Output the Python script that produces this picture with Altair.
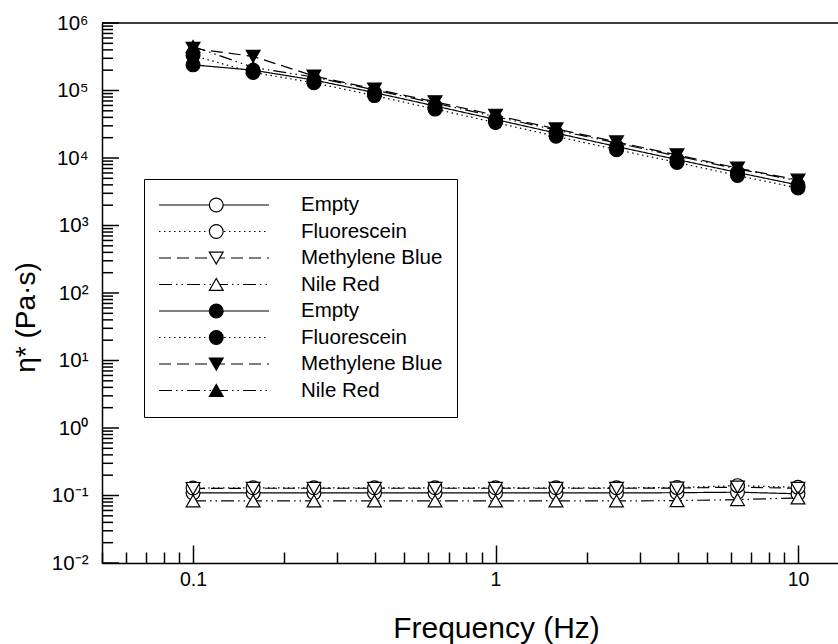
import math
import altair as alt
import pandas as pd

# ---- data ----
freqs = [0.1, 0.158, 0.251, 0.398, 0.631, 1.0, 1.585, 2.512, 3.981, 6.31, 10.0]
names = ["Empty", "Fluorescein", "Methylene Blue", "Nile Red"]

open_empty = [0.109, 0.109, 0.109, 0.109, 0.109, 0.109, 0.109, 0.109, 0.110, 0.112, 0.106]
open_fluor = [0.129, 0.130, 0.130, 0.130, 0.130, 0.130, 0.130, 0.130, 0.131, 0.140, 0.132]
open_mb = [0.127, 0.128, 0.128, 0.128, 0.128, 0.128, 0.128, 0.128, 0.129, 0.133, 0.128]
open_nr = [0.083, 0.083, 0.083, 0.083, 0.083, 0.083, 0.083, 0.083, 0.084, 0.087, 0.092]

filled_empty = [2.4e5, 2.0e5, 1.43e5, 9.3e4, 5.9e4, 3.72e4, 2.34e4, 1.48e4, 9.5e3, 6.1e3, 3.98e3]
filled_fluor = [3.3e5, 1.85e5, 1.30e5, 8.4e4, 5.3e4, 3.35e4, 2.1e4, 1.33e4, 8.6e3, 5.5e3, 3.6e3]
filled_mb = [4.2e5, 3.2e5, 1.64e5, 1.05e5, 6.8e4, 4.3e4, 2.7e4, 1.73e4, 1.11e4, 7.1e3, 4.7e3]
filled_nr = [4.5e5, 2.2e5, 1.58e5, 1.02e5, 6.5e4, 4.1e4, 2.6e4, 1.67e4, 1.07e4, 6.9e3, 4.6e3]

x_major = [0.1, 1, 10]
x_minor = [0.05, 0.06, 0.07, 0.08, 0.09, 0.2, 0.3, 0.4, 0.5, 0.6, 0.7, 0.8, 0.9,
           2, 3, 4, 5, 6, 7, 8, 9]
y_major = [1e-2, 1e-1, 1e0, 1e1, 1e2, 1e3, 1e4, 1e5, 1e6]
y_minor = [m * 10.0 ** k for k in range(-2, 6) for m in range(2, 10)]

FONT = "Liberation Sans"

rows = []
groups = (("open", [open_empty, open_fluor, open_mb, open_nr]),
          ("filled", [filled_empty, filled_fluor, filled_mb, filled_nr]))
for g, series in groups:
    for name, vals in zip(names, series):
        for f, v in zip(freqs, vals):
            rows.append({"freq": f, "eta": v,
                         "line": f"{g}: {name}",
                         "marker": f"{g} marker: {name}"})
df = pd.DataFrame(rows)

line_keys = [f"{g}: {n}" for g in ("open", "filled") for n in names]
marker_keys = [f"{g} marker: {n}" for g in ("open", "filled") for n in names]
dashes = [[1, 0], [1.5, 3.5], [12, 6], [13, 4, 1.5, 4, 1.5, 4]] * 2
shapes = ["circle", "circle", "triangle-down", "triangle-up"] * 2
fills = ["white"] * 4 + ["black"] * 4
strokes = ["black"] * 8

X_MIN, X_MAX = 0.05, 13.56
xscale = alt.Scale(type="log", domain=[X_MIN, X_MAX], nice=False)
yscale = alt.Scale(type="log", domain=[1e-2, 1e6], nice=False)

sup = str.maketrans("-0123456789", "⁻⁰¹²³⁴⁵⁶⁷⁸⁹")
parts = []
for v in y_major:
    e = round(math.log10(v))
    parts.append(f"round(log(datum.value)/LN10) == {e} ? '10{str(e).translate(sup)}'")
y_label_expr = " : ".join(parts) + " : ''"

legend_lines = alt.Legend(
    orient="none", legendX=42, legendY=156, title=None,
    symbolType="stroke", symbolSize=12100, symbolStrokeWidth=1.2,
    symbolStrokeColor="black", labelFont=FONT, labelFontSize=20.5,
    labelColor="black", labelOffset=31, labelLimit=400, padding=14,
    clipHeight=24, rowPadding=2.5, strokeColor="black", fillColor="white",
    zindex=1,
    labelExpr="replace(replace(datum.label, 'open: ', ''), 'filled: ', '')",
)
legend_marks = alt.Legend(
    orient="none", legendX=90, legendY=156, title=None,
    symbolSize=190, symbolStrokeWidth=1.2, symbolStrokeColor="black",
    symbolOpacity=1, labelExpr="''", labelFontSize=20.5, labelLimit=400,
    padding=14, clipHeight=24, rowPadding=2.5, zindex=2,
)

base = alt.Chart(df)

lines = base.mark_line(color="black", strokeWidth=1.2).encode(
    x=alt.X("freq:Q", scale=xscale,
            axis=alt.Axis(orient="bottom", values=x_major, format="~g",
                          title="Frequency (Hz)",
                          tickSize={"expr": "-18"}, labelPadding=25,
                          titleX=394, titleY=74, titleBaseline="alphabetic",
                          titleFontSize=30)),
    y=alt.Y("eta:Q", scale=yscale,
            axis=alt.Axis(orient="left", values=y_major, labelExpr=y_label_expr,
                          title="η* (Pa·s)", ticks=False, labelFontSize=20.5,
                          labelPadding=14, titleX=-76, titleY=294,
                          titleBaseline="middle")),
    strokeDash=alt.StrokeDash("line:N",
                              scale=alt.Scale(domain=line_keys, range=dashes),
                              legend=legend_lines),
)

points = base.mark_point(filled=True, size=190, strokeWidth=1.2, opacity=1).encode(
    x=alt.X("freq:Q", scale=xscale,
            axis=alt.Axis(orient="bottom", values=x_minor, labels=False,
                          domain=False, title=None, tickSize={"expr": "-11"})),
    y=alt.Y("eta:Q", scale=yscale, axis=None),
    shape=alt.Shape("marker:N",
                    scale=alt.Scale(domain=marker_keys, range=shapes),
                    legend=legend_marks),
    fill=alt.Fill("marker:N",
                  scale=alt.Scale(domain=marker_keys, range=fills),
                  legend=legend_marks),
    stroke=alt.Stroke("marker:N",
                      scale=alt.Scale(domain=marker_keys, range=strokes),
                      legend=legend_marks),
)

top = alt.Chart(pd.DataFrame({"eta": [1e6]})).mark_rule(
    color="black", strokeWidth=1.5).encode(
    y=alt.Y("eta:Q", scale=yscale, axis=None))

# inward y ticks: from the left edge of the frequency range, a short log step in
# (11 px minor, 17 px major at 302.5 px per decade)
minor_end = X_MIN * 10 ** (11 / 302.5)
major_end = X_MIN * 10 ** (17 / 302.5)
yt_minor_df = pd.DataFrame({"eta": y_minor, "x0": X_MIN, "x1": minor_end})
yt_major_df = pd.DataFrame({"eta": y_major, "x0": X_MIN, "x1": major_end})

ytick_minor = alt.Chart(yt_minor_df).mark_rule(
    color="black", strokeWidth=1.5).encode(
    y=alt.Y("eta:Q", scale=yscale, axis=None),
    x=alt.X("x0:Q", scale=xscale, axis=None),
    x2="x1:Q")
ytick_major = alt.Chart(yt_major_df).mark_rule(
    color="black", strokeWidth=1.5).encode(
    y=alt.Y("eta:Q", scale=yscale, axis=None),
    x=alt.X("x0:Q", scale=xscale, axis=None),
    x2="x1:Q")

chart = (
    alt.layer(lines, points, top, ytick_minor, ytick_major)
    .resolve_axis(x="independent", y="independent")
    .properties(width=736, height=540,
                padding={"left": 102, "top": 23, "right": 0, "bottom": 81},
                autosize=alt.AutoSizeParams(type="none"),
                background="white")
    .configure_view(stroke=None)
    .configure_axis(grid=False, domainColor="black", domainWidth=1.5,
                    tickColor="black", tickWidth=1.5,
                    labelFont=FONT, labelFontSize=19.5, labelColor="black",
                    titleFont=FONT, titleFontSize=28, titleFontWeight="normal",
                    titleColor="black")
)

chart.save("out.html", embed_options={"renderer": "svg", "actions": False})
